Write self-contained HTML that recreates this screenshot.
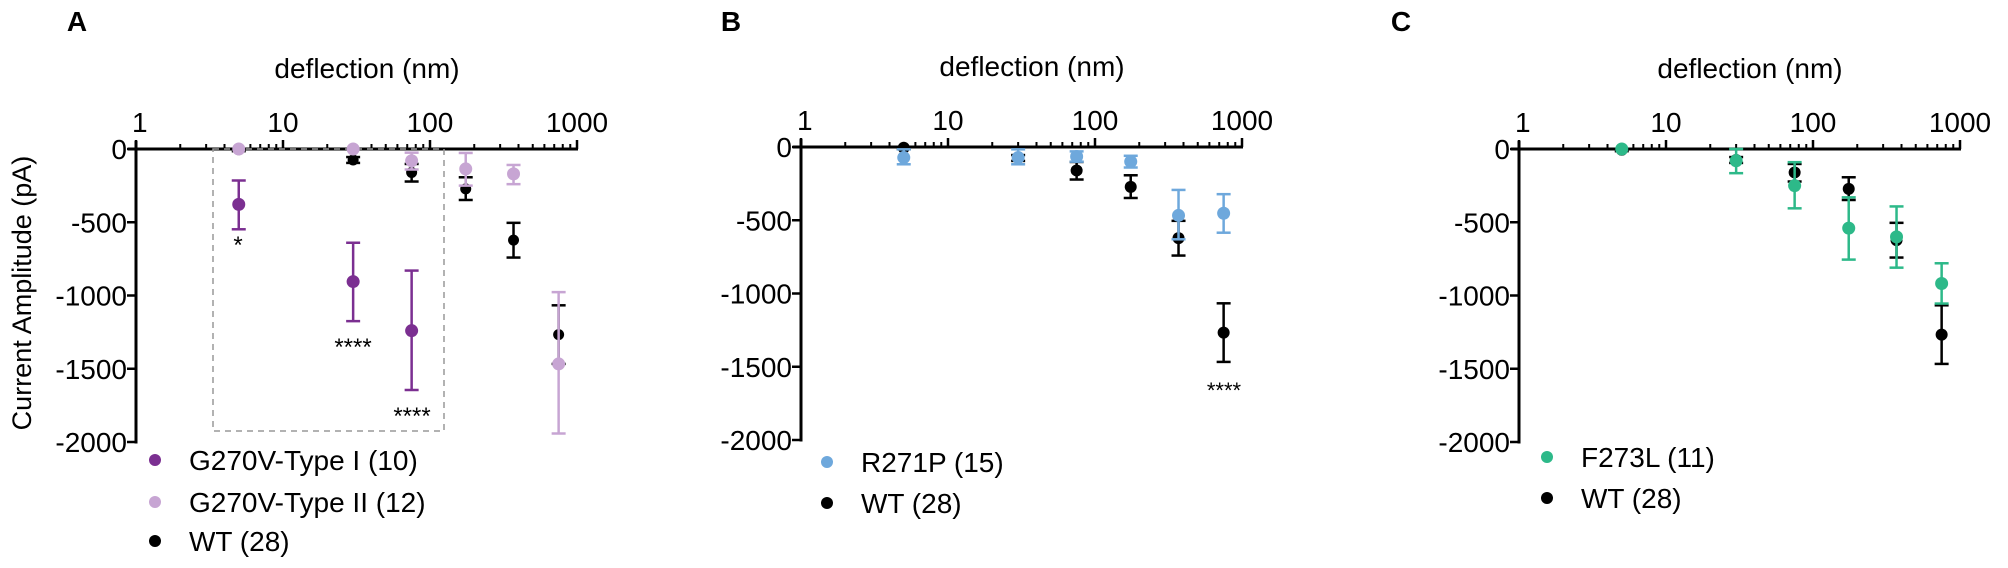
<!DOCTYPE html>
<html><head><meta charset="utf-8"><style>
html,body{margin:0;padding:0;background:#fff;}
svg{display:block;font-family:"Liberation Sans",Arial,sans-serif;}
</style></head><body>
<svg id="fig" width="2008" height="568" viewBox="0 0 2008 568" xmlns="http://www.w3.org/2000/svg"></svg>
<script>
// ---- data ----
const xs = [5, 30, 75, 175, 370, 750];
const xsI = [5, 30, 75];
const wtMean = [-5, -75, -160, -272, -622, -1267];
const wtLo = [-15, -95, -222, -348, -741, -1467];
const wtHi = [0, -55, -102, -193, -504, -1067];
const typeIMean = [-378, -905, -1240];
const typeILo = [-548, -1175, -1645];
const typeIHi = [-215, -640, -830];
const typeIIMean = [0, 0, -80, -136, -170, -1467];
const typeIILo = [0, 0, -140, -250, -240, -1942];
const typeIIHi = [0, 0, -25, -27, -109, -977];
const rMean = [-72, -72, -65, -100, -467, -452];
const rLo = [-118, -118, -100, -140, -630, -585];
const rHi = [-16, -16, -30, -60, -293, -322];
const fMean = [0, -80, -250, -540, -600, -918];
const fLo = [0, -165, -405, -755, -810, -1055];
const fHi = [0, 0, -90, -330, -392, -780];
const yTicks = [0, -500, -1000, -1500, -2000];
const xTickLabels = [1, 10, 100, 1000];

const NS = "http://www.w3.org/2000/svg";
const svg = document.getElementById('fig');
function mk(tag, attrs, parent) {
  const e = document.createElementNS(NS, tag);
  for (const k in attrs) e.setAttribute(k, attrs[k]);
  (parent || svg).appendChild(e);
  return e;
}
const DEC = 147, YS = 293 / 2000;
function makePanel(id, x0, y0) {
  const g = mk('g', {});
  
  
  const sx = v => x0 + DEC * Math.log10(v);
  const sy = v => y0 - v * YS;
  // axes
  const xa = mk('line', {x1: x0 - 8, y1: y0, x2: sx(1000) + 1, y2: y0, stroke: '#000', 'stroke-width': 3}, g);
  
  
  const ya = mk('line', {x1: x0, y1: y0 - 8, x2: x0, y2: sy(-2000) + 1.5, stroke: '#000', 'stroke-width': 3}, g);
  
  
  for (let d = 0; d < 3; d++) for (let m = 2; m <= 9; m++) {
    const x = sx(m * Math.pow(10, d));
    mk('line', {x1: x, y1: y0, x2: x, y2: y0 - 5, stroke: '#000', 'stroke-width': 2}, g);
  }
  xTickLabels.forEach(v => {
    const x = sx(v);
    mk('line', {x1: x, y1: y0, x2: x, y2: y0 - 9, stroke: '#000', 'stroke-width': 2.5}, g);
    const t = mk('text', {x: x + (v === 1 ? 0 : 0), y: y0 - 17, 'font-size': 28, 'text-anchor': v === 1 ? 'start' : 'middle'}, g);
    if (v === 1) t.setAttribute('x', x - 4);
    t.textContent = v;
    
    
  });
  yTicks.forEach(v => {
    const y = sy(v);
    mk('line', {x1: x0 - 9, y1: y, x2: x0, y2: y, stroke: '#000', 'stroke-width': 2.5}, g);
    const t = mk('text', {x: x0 - 9, y: y + 10, 'font-size': 28, 'text-anchor': 'end'}, g);
    t.textContent = v;
    
    
  });
  const tt = mk('text', {x: sx(1000) - 210, y: y0 - 71, 'font-size': 28, 'text-anchor': 'middle'}, g);
  tt.textContent = 'deflection (nm)';
  
  
  return {g, sx, sy};
}
function series(p, name, xv, mean, lo, hi, color, r) {
  const g = mk('g', {}, p.g);
  
  
  xv.forEach((v, i) => {
    const x = p.sx(v);
    if (lo[i] !== hi[i]) {
      const a = p.sy(hi[i]), b = p.sy(lo[i]);
      mk('line', {x1: x, y1: a, x2: x, y2: b, stroke: color, 'stroke-width': 2.5}, g);
      mk('line', {x1: x - 7, y1: a, x2: x + 7, y2: a, stroke: color, 'stroke-width': 2.5}, g);
      mk('line', {x1: x - 7, y1: b, x2: x + 7, y2: b, stroke: color, 'stroke-width': 2.5}, g);
    }
    const c = mk('circle', {cx: x, cy: p.sy(mean[i]), r: r, fill: color}, g);
    
    
  });
}
function legend(x, y, color, label, r) {
  const g = mk('g', {});
  
  
  mk('circle', {cx: x, cy: y, r: r, fill: color}, g);
  const t = mk('text', {x: x + 34, y: y + 10, 'font-size': 28}, g);
  t.textContent = label;
}
function label(x, y, s, size, bold, name) {
  const t = mk('text', {x: x, y: y, 'font-size': size, 'font-weight': bold ? 'bold' : 'normal', 'text-anchor': 'middle'});
  t.textContent = s;
  
  
}
const PUR = '#7b2f91', LPUR = '#c7a5d3', BLUE = '#6ea8dc', GRN = '#2db989';

// Panel A
const A = makePanel('a', 136, 149);
const box = mk('rect', {x: 213, y: 149, width: 231, height: 282, fill: 'none', stroke: '#999', 'stroke-width': 1.5, 'stroke-dasharray': '6,5'}, A.g);


series(A, 'wt-series', xs, wtMean, wtLo, wtHi, '#000', 5.5);
series(A, 'type-ii-series', xs, typeIIMean, typeIILo, typeIIHi, LPUR, 6.5);
series(A, 'type-i-series', xsI, typeIMean, typeILo, typeIHi, PUR, 6.5);
label(77, 31, 'A', 28, true, 'panel-label-a');
const yt = mk('text', {x: 0, y: 0, 'font-size': 27, 'text-anchor': 'middle', transform: 'translate(31,293) rotate(-90)'});
yt.textContent = 'Current Amplitude (pA)';


label(238, 253, '*', 24, false, 'significance-star');
label(353, 355, '****', 24, false, 'significance-star');
label(412, 424, '****', 24, false, 'significance-star');
legend(155, 460, PUR, 'G270V-Type I (10)', 6);
legend(155, 502, LPUR, 'G270V-Type II (12)', 6);
legend(155, 541, '#000', 'WT (28)', 6);

// Panel B
const B = makePanel('b', 801, 147);
series(B, 'wt-series', xs, wtMean, wtLo, wtHi, '#000', 6);
series(B, 'r271p-series', xs, rMean, rLo, rHi, BLUE, 6.5);
label(731, 31, 'B', 28, true, 'panel-label-b');
label(1224, 398, '****', 22, false, 'significance-star');
legend(827, 462, BLUE, 'R271P (15)', 6);
legend(827, 503, '#000', 'WT (28)', 6);

// Panel C
const C = makePanel('c', 1519, 149);
series(C, 'wt-series', xs, wtMean, wtLo, wtHi, '#000', 6);
series(C, 'f273l-series', xs, fMean, fLo, fHi, GRN, 6.5);
label(1401, 31, 'C', 28, true, 'panel-label-c');
legend(1547, 457, GRN, 'F273L (11)', 6);
legend(1547, 498, '#000', 'WT (28)', 6);
</script>
</body></html>
